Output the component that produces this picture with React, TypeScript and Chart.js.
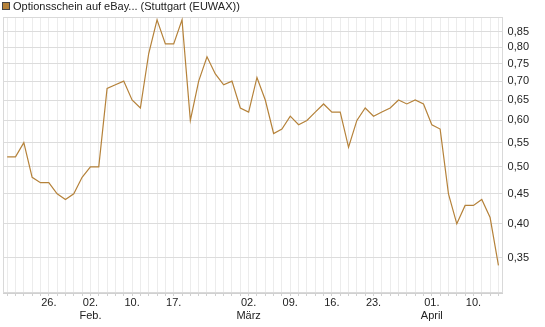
import React, { useEffect, useRef } from 'react';
import { Chart, registerables } from 'chart.js';

Chart.register(...registerables);

const SERIES_NAME = 'Optionsschein auf eBay... (Stuttgart (EUWAX))';

const DATES = [
  '19.01', '20.01', '21.01', '22.01', '23.01', '26.01', '27.01', '28.01', '29.01', '30.01',
  '02.02', '03.02', '04.02', '05.02', '06.02', '10.02', '11.02', '12.02', '13.02', '16.02',
  '17.02', '18.02', '19.02', '20.02', '23.02', '24.02', '25.02', '26.02', '27.02', '02.03',
  '03.03', '04.03', '05.03', '06.03', '09.03', '10.03', '11.03', '12.03', '13.03', '16.03',
  '17.03', '18.03', '19.03', '20.03', '23.03', '24.03', '25.03', '26.03', '27.03', '30.03',
  '31.03', '01.04', '02.04', '07.04', '08.04', '09.04', '10.04', '13.04', '14.04', '15.04',
];

const VALUES = [
  0.52, 0.52, 0.55, 0.48, 0.47, 0.47, 0.45, 0.44, 0.45, 0.48,
  0.50, 0.50, 0.68, 0.69, 0.70, 0.65, 0.63, 0.78, 0.89, 0.81,
  0.81, 0.89, 0.60, 0.70, 0.77, 0.72, 0.69, 0.70, 0.63, 0.62,
  0.71, 0.65, 0.57, 0.58, 0.61, 0.59, 0.60, 0.62, 0.64, 0.62,
  0.62, 0.54, 0.60, 0.63, 0.61, 0.62, 0.63, 0.65, 0.64, 0.65,
  0.64, 0.59, 0.58, 0.45, 0.40, 0.43, 0.43, 0.44, 0.41, 0.34,
];

// x-axis labels shown (date -> label lines)
const X_LABELS: Record<string, string[]> = {
  '26.01': ['26.'],
  '02.02': ['02.', 'Feb.'],
  '10.02': ['10.'],
  '17.02': ['17.'],
  '02.03': ['02.', 'März'],
  '09.03': ['09.'],
  '16.03': ['16.'],
  '23.03': ['23.'],
  '01.04': ['01.', 'April'],
  '10.04': ['10.'],
};

const Y_TICKS = [0.35, 0.4, 0.45, 0.5, 0.55, 0.6, 0.65, 0.7, 0.75, 0.8, 0.85];
const Y_MIN = 0.305;
const Y_MAX = 0.9;

const LINE_COLOR = '#b5823a';
const FONT = 'Arial, "Liberation Sans", sans-serif';

const framePlugin = {
  id: 'frame',
  beforeDatasetsDraw(chart: any) {
    const { ctx, chartArea } = chart;
    ctx.save();
    ctx.strokeStyle = '#d9d9d9';
    ctx.lineWidth = 1;
    ctx.strokeRect(
      Math.round(chartArea.left) + 0.5,
      Math.round(chartArea.top) + 0.5,
      Math.round(chartArea.right - chartArea.left) - 1,
      Math.round(chartArea.bottom - chartArea.top) - 1,
    );
    ctx.restore();
  },
  afterDraw(chart: any) {
    const { ctx } = chart;
    ctx.save();
    ctx.fillStyle = LINE_COLOR;
    ctx.fillRect(2, 2, 8, 8);
    ctx.strokeStyle = '#444';
    ctx.lineWidth = 1;
    ctx.strokeRect(2.5, 2.5, 7, 7);
    ctx.fillStyle = '#222';
    ctx.font = `11px ${FONT}`;
    ctx.textBaseline = 'alphabetic';
    ctx.textAlign = 'left';
    ctx.fillText(SERIES_NAME, 13, 10);
    ctx.restore();
  },
};

export default function App() {
  const canvasRef = useRef<HTMLCanvasElement | null>(null);

  useEffect(() => {
    document.body.style.margin = '0';
    const canvas = canvasRef.current;
    if (!canvas) return;
    const chart = new Chart(canvas, {
      type: 'line',
      data: {
        labels: DATES,
        datasets: [
          {
            label: SERIES_NAME,
            data: VALUES,
            borderColor: LINE_COLOR,
            backgroundColor: LINE_COLOR,
            borderWidth: 1.2,
            pointRadius: 0,
            tension: 0,
            fill: false,
          },
        ],
      },
      options: {
        animation: false,
        responsive: false,
        maintainAspectRatio: false,
        layout: { padding: { left: 3, top: 17, right: 11, bottom: 5 } },
        plugins: {
          legend: { display: false },
          tooltip: { enabled: false },
        },
        scales: {
          x: {
            type: 'category',
            offset: true,
            grid: {
              offset: false,
              color: '#ececec',
              drawTicks: true,
              tickLength: 3,
              tickColor: '#d0d0d0',
            },
            border: { color: '#d0d0d0' },
            ticks: {
              autoSkip: false,
              maxRotation: 0,
              minRotation: 0,
              padding: 0,
              color: '#222',
              font: { family: FONT, size: 11, lineHeight: 13 / 11 },
              callback: (_v: any, i: number) => X_LABELS[DATES[i]] || '',
            },
          },
          y: {
            type: 'logarithmic',
            position: 'right',
            min: Y_MIN,
            max: Y_MAX,
            bounds: 'data',
            grid: { color: '#dcdcdc', drawTicks: false },
            border: { color: '#d0d0d0' },
            afterBuildTicks: (scale: any) => {
              scale.ticks = Y_TICKS.map((v) => ({ value: v }));
            },
            ticks: {
              padding: 5,
              color: '#222',
              font: { family: FONT, size: 11 },
              callback: (v: any) => Number(v).toFixed(2).replace('.', ','),
            },
          },
        },
      },
      plugins: [framePlugin],
    });
    return () => chart.destroy();
  }, []);

  return (
    <div style={{ width: 545, height: 327, position: 'relative' }}>
      <canvas ref={canvasRef} width={545} height={327} style={{ display: 'block' }} />
    </div>
  );
}
